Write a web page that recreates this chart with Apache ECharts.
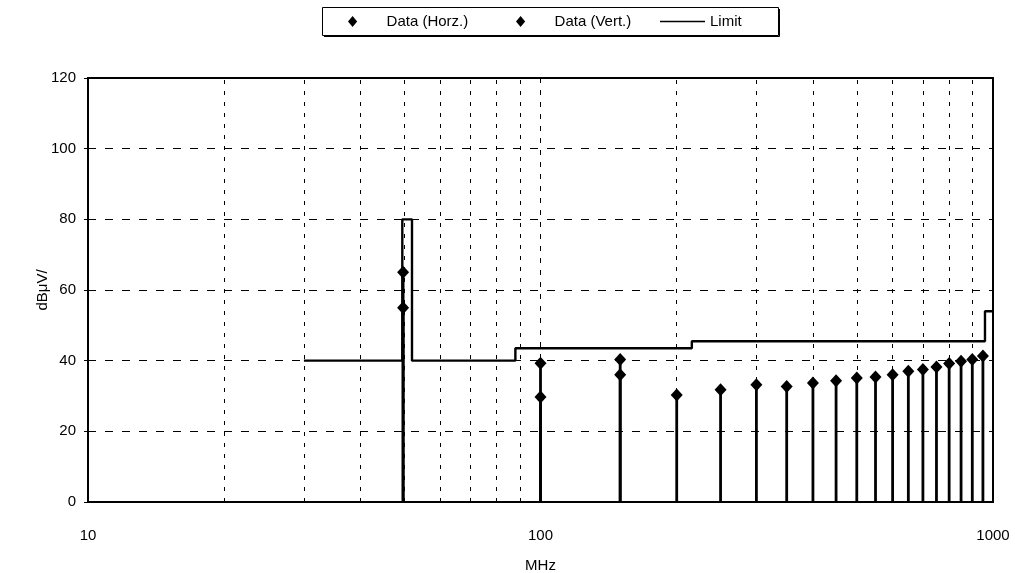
<!DOCTYPE html>
<html>
<head>
<meta charset="utf-8">
<script src="https://cdn.jsdelivr.net/npm/echarts@6/dist/echarts.min.js"></script>
<style>
html,body{margin:0;padding:0;background:#fff;}
#c{width:1015px;height:573px;}
</style>
</head>
<body>
<div id="c"></div>
<script>
// ---- data ----
var horzFreq = [49.7, 100, 150, 200, 250, 300, 350, 400, 450, 500, 550, 600, 650, 700, 750, 800, 850, 900, 950];
var horzVal  = [65, 39.3, 40.3, 30.3, 31.8, 33.2, 32.7, 33.7, 34.3, 35.1, 35.4, 36.0, 37.0, 37.5, 38.2, 39.2, 39.8, 40.3, 41.3];
var vertFreq = [49.7, 100, 150];
var vertVal  = [55, 29.7, 36.0];
var limitFreq = [30, 49.5, 49.5, 52, 52, 88, 88, 216, 216, 960, 960, 1000];
var limitVal  = [40, 40, 80, 80, 40, 40, 43.5, 43.5, 45.5, 45.5, 54, 54];
var minorGridFreq = [20, 30, 40, 50, 60, 70, 80, 90, 200, 300, 400, 500, 600, 700, 800, 900];
var xTickLabels = ['10', '100', '1000'];
var yTicks = [0, 20, 40, 60, 80, 100, 120];

function pairs(xs, ys){ return xs.map(function(x,i){ return [x, ys[i]]; }); }

var horzData = pairs(horzFreq, horzVal);
var vertData = pairs(vertFreq, vertVal);
var limitData = pairs(limitFreq, limitVal);

function stemRender(params, api){
  var f = api.value(0), v = api.value(1);
  var p0 = api.coord([f, 0]);
  var p1 = api.coord([f, v]);
  return {
    type: 'line',
    shape: {x1: p0[0], y1: p0[1], x2: p1[0], y2: p1[1]},
    style: {stroke: '#000', lineWidth: 2.8}
  };
}

var font = 'Liberation Sans, Arial, sans-serif';
var diamondIcon = 'path://M5,0 L10,6 L5,12 L0,6 Z';
var lineIcon = 'path://M0,0 H46 V1.6 H0 Z';
var legendText = {fontFamily: font, fontSize: 15, color: '#000'};

var chart = echarts.init(document.getElementById('c'), null, {renderer: 'canvas'});
chart.setOption({
  backgroundColor: '#fff',
  animation: false,
  legend: [
    {
      top: 14, left: 348, padding: 0,
      itemWidth: 58, itemHeight: 11,
      textStyle: legendText,
      data: [{name: 'Data (Horz.)', icon: diamondIcon}]
    },
    {
      top: 14, left: 516, padding: 0,
      itemWidth: 58, itemHeight: 11,
      textStyle: legendText,
      data: [{name: 'Data (Vert.)', icon: diamondIcon}]
    },
    {
      top: 14, left: 660, padding: 0,
      itemWidth: 45, itemHeight: 11,
      textStyle: legendText,
      data: [{name: 'Limit', icon: lineIcon}]
    }
  ],
  graphic: [
    {type: 'rect', shape: {x: 322.5, y: 7.5, width: 456, height: 28},
     style: {fill: 'none', stroke: '#000', lineWidth: 1}, z: 10},
    {type: 'polyline', shape: {points: [[779.5, 9], [779.5, 36.5], [324, 36.5]]},
     style: {fill: 'none', stroke: '#000', lineWidth: 1}, z: 10}
  ],
  grid: {
    left: 88, right: 22, top: 78, bottom: 71,
    outerBoundsMode: 'none',
    containLabel: false,
    show: true, borderColor: '#000', borderWidth: 2, backgroundColor: '#fff'
  },
  xAxis: {
    type: 'log',
    logBase: 10,
    min: 10, max: 1000,
    name: 'MHz',
    nameLocation: 'middle',
    nameGap: 56,
    nameMoveOverlap: false,
    nameTextStyle: {fontFamily: font, fontSize: 15, color: '#000'},
    axisLine: {show: true, lineStyle: {color: '#000', width: 2}},
    axisTick: {show: false},
    axisLabel: {fontFamily: font, fontSize: 15, color: '#000', margin: 26,
      formatter: function(v){ var i = Math.round(Math.log10(v)) - 1; return xTickLabels[i] || ''; }},
    splitLine: {show: true, lineStyle: {color: '#000', width: 1, type: [5, 7]}}
  },
  yAxis: {
    type: 'value',
    min: 0, max: 120, interval: 20,
    name: 'dBμV/',
    nameLocation: 'middle',
    nameGap: 38,
    nameMoveOverlap: false,
    nameRotate: 90,
    nameTextStyle: {fontFamily: font, fontSize: 15, color: '#000'},
    axisLine: {show: true, lineStyle: {color: '#000', width: 2}},
    axisTick: {show: true, length: 4, lineStyle: {color: '#000'}},
    axisLabel: {fontFamily: font, fontSize: 15, color: '#000', margin: 12,
      formatter: function(v){ return yTicks.indexOf(v) >= 0 ? String(v) : ''; }},
    splitLine: {show: true, lineStyle: {color: '#000', width: 1, type: [8, 9]}}
  },
  series: [
    {
      name: 'Limit',
      type: 'line',
      data: limitData,
      symbol: 'none',
      lineStyle: {color: '#000', width: 2.4},
      itemStyle: {color: '#000'},
      z: 3,
      markLine: {
        silent: true,
        symbol: ['none', 'none'],
        label: {show: false},
        lineStyle: {color: '#000', width: 1, type: [4, 7]},
        data: minorGridFreq.map(function(f){ return {xAxis: f}; }),
        z: 1
      }
    },
    {
      name: 'stemsH',
      type: 'custom',
      renderItem: stemRender,
      data: horzData,
      z: 4
    },
    {
      name: 'stemsV',
      type: 'custom',
      renderItem: stemRender,
      data: vertData,
      z: 4
    },
    {
      name: 'Data (Horz.)',
      type: 'scatter',
      data: horzData,
      symbol: 'diamond',
      symbolSize: [12, 13],
      itemStyle: {color: '#000', opacity: 1},
      z: 5
    },
    {
      name: 'Data (Vert.)',
      type: 'scatter',
      data: vertData,
      symbol: 'diamond',
      symbolSize: [12, 13],
      itemStyle: {color: '#000', opacity: 1},
      z: 5
    }
  ]
});
</script>
</body>
</html>
